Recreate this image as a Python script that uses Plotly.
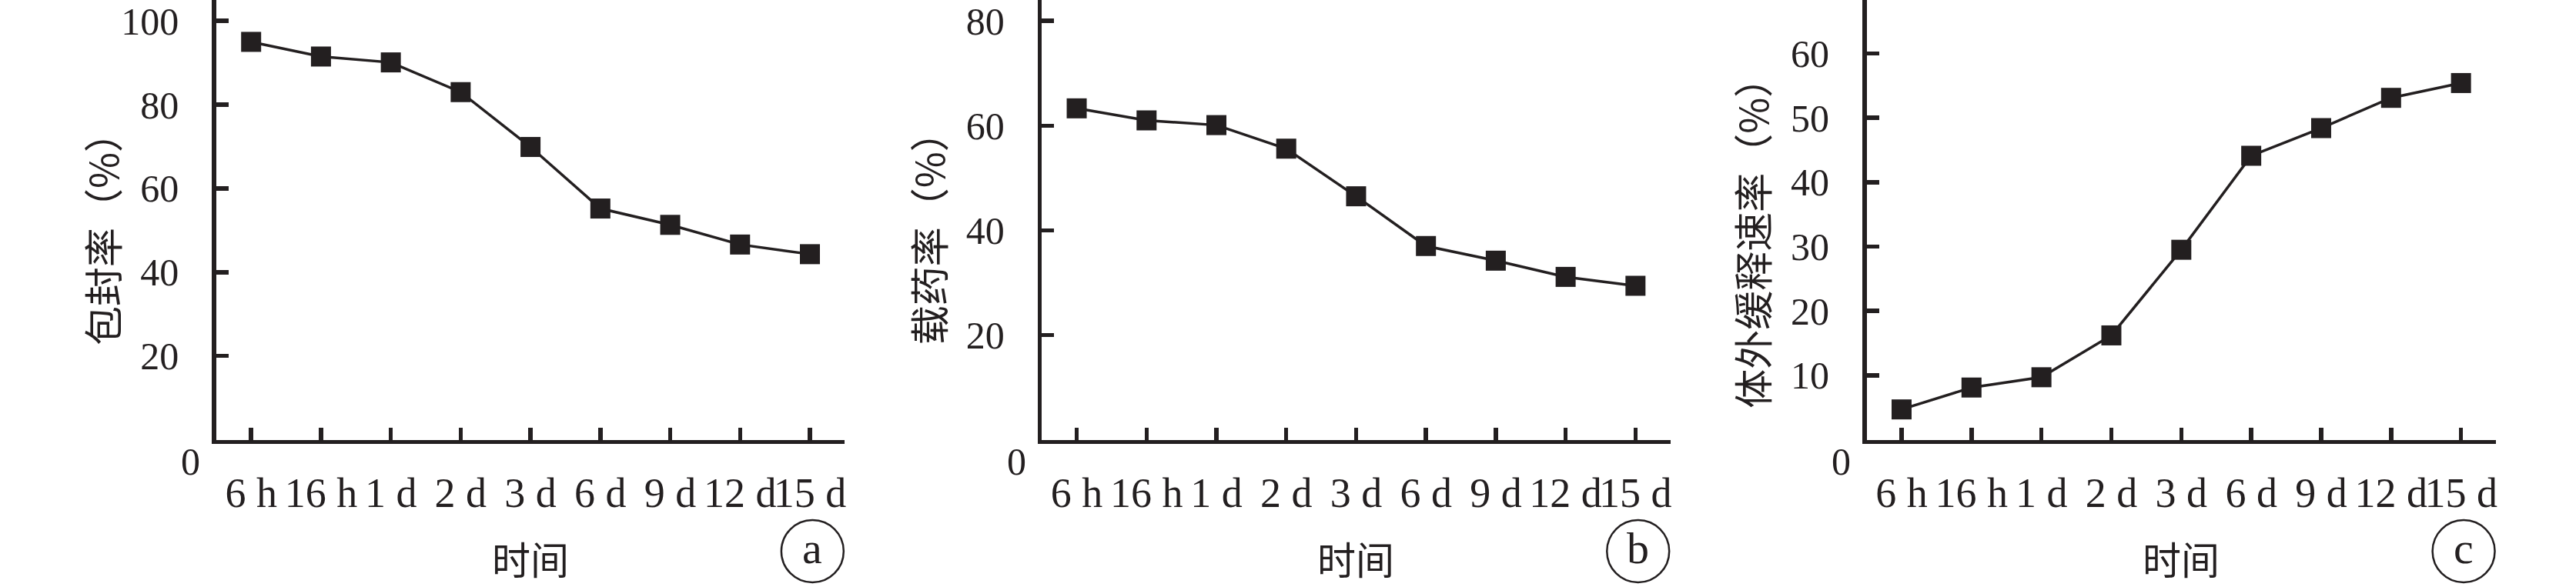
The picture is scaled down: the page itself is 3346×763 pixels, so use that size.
import plotly.graph_objects as go

# ---------------- data ----------------
categories = ["6 h", "16 h", "1 d", "2 d", "3 d", "6 d", "9 d", "12 d", "15 d"]
encapsulation = [95.0, 91.5, 90.1, 83.0, 69.9, 55.2, 51.3, 46.6, 44.3]
drug_loading = [63.3, 61.0, 60.1, 55.6, 46.5, 37.0, 34.2, 31.1, 29.4]
release_rate = [4.7, 8.1, 9.7, 16.2, 29.5, 44.1, 48.4, 53.1, 55.4]

y_titles = ["包封率（%）", "载药率（%）", "体外缓释速率（%）"]
panel_letters = ["a", "b", "c"]
x_title = "时间"
y_ticks_a = [20, 40, 60, 80, 100]
y_ticks_b = [20, 40, 60, 80]
y_ticks_c = [10, 20, 30, 40, 50, 60]

# ---------------- layout constants ----------------
W, H = 3346, 763
INK = "#231f20"
SERIF = "Liberation Serif, Times New Roman, serif"
CJK = "Noto Sans CJK SC, sans-serif"


def px(x):
    return x / W


def py(y):
    return 1 - y / H


x_domains = [(281, 1098), (1354, 2171), (2426, 3244)]
y_bottom = 571.5
y_ranges = [[0, 105.0], [0, 84.0], [0, 68.3]]
y_tickvals = [y_ticks_a, y_ticks_b, y_ticks_c]
series = [encapsulation, drug_loading, release_rate]

fig = go.Figure()

for i in range(3):
    sfx = "" if i == 0 else str(i + 1)
    fig.add_trace(go.Scatter(
        x=categories, y=series[i],
        xaxis="x" + sfx, yaxis="y" + sfx,
        mode="lines+markers",
        line=dict(color=INK, width=3.5),
        marker=dict(symbol="square", size=26, color=INK, line=dict(width=0)),
        showlegend=False, hoverinfo="skip", cliponaxis=False,
    ))
    x0, x1 = x_domains[i]
    fig.layout["xaxis" + sfx] = dict(
        domain=[px(x0), px(x1)],
        anchor="y" + sfx,
        type="category",
        categoryorder="array", categoryarray=categories,
        range=[-0.5, len(categories) - 0.5],
        showline=True, linecolor=INK, linewidth=5.5,
        ticks="inside", ticklen=16, tickwidth=5.5, tickcolor=INK,
        tickangle=0,
        ticklabelstandoff=17,
        ticklabeloverflow="allow",
        tickfont=dict(family=SERIF, size=54, color=INK),
        showgrid=False, zeroline=False, fixedrange=True,
    )
    fig.layout["yaxis" + sfx] = dict(
        domain=[py(y_bottom), 1.0],
        anchor="x" + sfx,
        range=y_ranges[i],
        tickvals=y_tickvals[i],
        showline=True, linecolor=INK, linewidth=5.5,
        ticks="inside", ticklen=16, tickwidth=5.5, tickcolor=INK,
        ticklabelstandoff=33,
        ticklabeloverflow="allow",
        tickfont=dict(family=SERIF, size=50, color=INK),
        showgrid=False, zeroline=False, fixedrange=True,
    )

annotations = []
shapes = []
title_x = [132, 1206, 2276]
title_y = [298, 297, 303]
for i in range(3):
    x0, x1 = x_domains[i]
    # "0" at the corner
    annotations.append(dict(
        x=px(x0 - 33), y=py(600), xref="paper", yref="paper",
        text="0", showarrow=False, xanchor="center", yanchor="middle",
        font=dict(family=SERIF, size=50, color=INK)))
    # y-axis title
    annotations.append(dict(
        x=px(title_x[i]), y=py(title_y[i]), xref="paper", yref="paper",
        text=y_titles[i], showarrow=False, textangle=-90,
        xanchor="center", yanchor="middle",
        font=dict(family=CJK, size=51, color=INK)))
    # x-axis title
    annotations.append(dict(
        x=px((x0 + x1) / 2), y=py(725), xref="paper", yref="paper",
        text=x_title, showarrow=False, xanchor="center", yanchor="middle",
        font=dict(family=CJK, size=50, color=INK)))
    # circled panel letter
    cx = x1 - 42
    cy = 716.5
    r = 40.5
    shapes.append(dict(type="circle", xref="paper", yref="paper",
                       x0=px(cx - r), x1=px(cx + r), y0=py(cy + r), y1=py(cy - r),
                       line=dict(color=INK, width=2.5)))
    annotations.append(dict(
        x=px(cx), y=py(cy - 4), xref="paper", yref="paper",
        text=panel_letters[i], showarrow=False, xanchor="center", yanchor="middle",
        font=dict(family=SERIF, size=58, color=INK)))

fig.update_layout(
    width=W, height=H,
    margin=dict(l=0, r=0, t=0, b=0),
    paper_bgcolor="white", plot_bgcolor="white",
    annotations=annotations, shapes=shapes,
)

fig.write_html(
    "out.html",
    config={"displayModeBar": False, "staticPlot": True},
    post_script="document.body.style.margin='0';document.body.style.overflow='hidden';",
)
